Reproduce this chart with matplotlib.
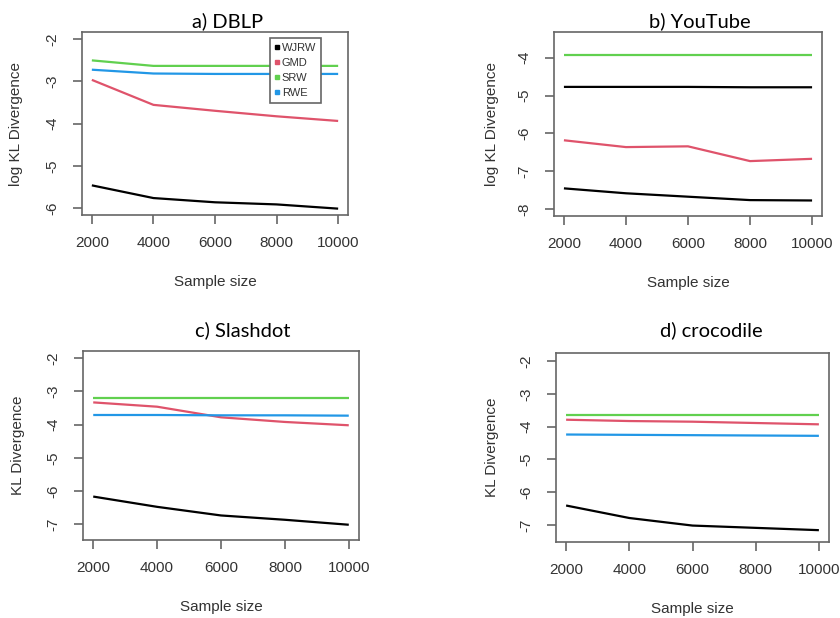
import matplotlib
matplotlib.use('Agg')
import matplotlib.pyplot as plt
from matplotlib.lines import Line2D

# Tamaños de muestra
sample_size = [2000, 4000, 6000, 8000, 10000]

# a) DBLP (log KL)
dblp_wjrw = [-5.46, -5.76, -5.86, -5.91, -6.01]
dblp_gmd = [-2.97, -3.56, -3.70, -3.83, -3.94]
dblp_srw = [-2.51, -2.64, -2.64, -2.64, -2.64]
dblp_rwe = [-2.73, -2.82, -2.83, -2.83, -2.83]

# b) YouTube (log KL) - la curva RWE sale en negro en el original
youtube_wjrw = [-7.45, -7.58, -7.67, -7.76, -7.77]
youtube_gmd = [-6.18, -6.36, -6.34, -6.73, -6.67]
youtube_srw = [-3.93, -3.93, -3.93, -3.93, -3.93]
youtube_rwe = [-4.77, -4.77, -4.77, -4.78, -4.78]

# c) Slashdot (KL)
slash_wjrw = [-6.17, -6.48, -6.74, -6.87, -7.02]
slash_gmd = [-3.33, -3.46, -3.78, -3.92, -4.02]
slash_srw = [-3.19, -3.19, -3.19, -3.19, -3.19]
slash_rwe = [-3.71, -3.71, -3.72, -3.72, -3.73]

# d) crocodile (KL)
croc_wjrw = [-6.40, -6.78, -7.01, -7.08, -7.15]
croc_gmd = [-3.79, -3.83, -3.85, -3.89, -3.93]
croc_srw = [-3.64, -3.64, -3.64, -3.64, -3.64]
croc_rwe = [-4.24, -4.25, -4.26, -4.27, -4.28]

metodos = ['WJRW', 'GMD', 'SRW', 'RWE']
colores = ['#000000', '#DF536B', '#61D04F', '#2297E6']

W, H = 840, 618
fig = plt.figure(figsize=(W / 100, H / 100), dpi=100)
fig.patch.set_facecolor('white')

PX = 0.72  # puntos por pixel


def panel(left, right, top, bottom, ylim, yticks, series, cols, titulo, ylab,
          tx, ty, lab_dx):
    ax = fig.add_axes([left / W, 1 - bottom / H, (right - left) / W, (bottom - top) / H])
    for s, c in zip(series, cols):
        ax.plot(sample_size, s, color=c, lw=1.6, solid_capstyle='butt')
    ax.set_xlim(2000 - 320, 10000 + 320)
    ax.set_ylim(*ylim)
    ax.set_xticks(sample_size)
    ax.set_yticks(yticks)
    ax.set_yticklabels([str(t) for t in yticks], rotation=90, va='center')
    for sp in ax.spines.values():
        sp.set_color('#666666')
        sp.set_linewidth(1.2)
    ax.tick_params(axis='both', direction='out', length=9 * PX, width=1.2,
                   color='#666666', labelcolor='#333333', labelsize=11)
    ax.tick_params(axis='x', pad=12 * PX)
    ax.tick_params(axis='y', pad=14 * PX)
    for lbl in ax.get_xticklabels() + ax.get_yticklabels():
        lbl.set_family('Liberation Sans')
    cx = (left + right) / 2
    fig.text(cx / W, 1 - (bottom + 67) / H, 'Sample size', ha='center', va='center',
             fontsize=11, color='#333333', family='Liberation Sans')
    fig.text((left - lab_dx) / W, 1 - ((top + bottom) / 2) / H, ylab, rotation=90,
             ha='center', va='center', fontsize=11, color='#333333',
             family='Liberation Sans')
    fig.text(tx / W, 1 - ty / H, titulo, ha='center', va='center', fontsize=14.5,
             color='black', family='Lato')
    return ax


ax_a = panel(82, 348, 32, 215, (-6.16, -1.84), [-6, -5, -4, -3, -2],
             [dblp_wjrw, dblp_gmd, dblp_srw, dblp_rwe], colores,
             'a) DBLP', 'log KL Divergence', 228, 21, 66)

panel(554, 822, 32, 216, (-8.18, -3.32), [-8, -7, -6, -5, -4],
      [youtube_wjrw, youtube_gmd, youtube_srw, youtube_rwe],
      ['#000000', '#DF536B', '#61D04F', '#000000'],
      'b) YouTube', 'log KL Divergence', 700, 21, 62)

panel(83, 359, 351, 540, (-7.48, -1.78), [-7, -6, -5, -4, -3, -2],
      [slash_wjrw, slash_gmd, slash_srw, slash_rwe], colores,
      'c) Slashdot', 'KL Divergence', 243, 330, 65)

panel(556, 829, 353, 542, (-7.51, -1.76), [-7, -6, -5, -4, -3, -2],
      [croc_wjrw, croc_gmd, croc_srw, croc_rwe], colores,
      'd) crocodile', 'KL Divergence', 711, 330, 64)

# Leyenda del panel a
handles = [Line2D([], [], ls='none', marker='s', markersize=3.5, color=c) for c in colores]
leg = ax_a.legend(handles, metodos, loc='upper left', bbox_to_anchor=(0.707, 0.967),
                  handlelength=0.4, handletextpad=0.2, borderpad=0.45,
                  labelspacing=0.45, borderaxespad=0, fancybox=False, framealpha=1,
                  prop={'family': 'Liberation Sans', 'size': 8})
leg.get_frame().set_edgecolor('#666666')
leg.get_frame().set_linewidth(1.2)
for t in leg.get_texts():
    t.set_color('#333333')

plt.savefig('out.png', dpi=100)
